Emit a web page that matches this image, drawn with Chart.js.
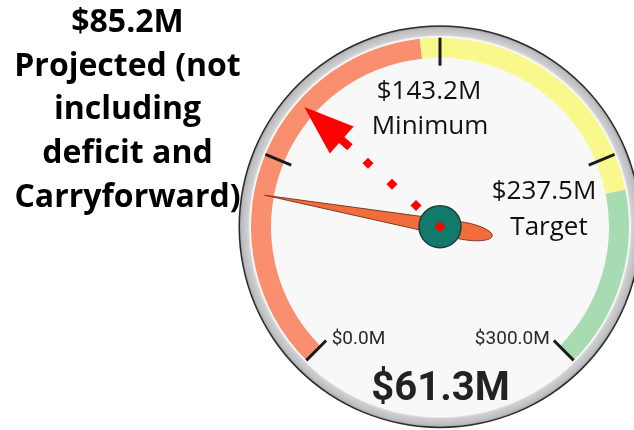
<!DOCTYPE html>
<html><head><meta charset="utf-8">
<script src="https://cdn.jsdelivr.net/npm/chart.js@4"></script>
<style>html,body{margin:0;padding:0;background:#fff;overflow:hidden}#wrap{width:634px;height:430px;position:relative}</style>
</head><body><div id="wrap"><canvas id="c" width="634" height="430"></canvas></div>
<script>
// ---- data ----
const bandEdges = [0, 143.2, 237.5, 300];
const bandNames = ['Below minimum', 'Minimum to target', 'Above target'];
const bandColors = ['#f98f6f', '#f9f88a', '#a7dcb3'];
const tickValues = [0, 75, 150, 225, 300];
const scaleLabels = ['$0.0M', '$300.0M'];
const currentValue = 61.3;
const currentLabel = '$61.3M';
const minimumLabel = ['$143.2M', 'Minimum'];
const targetLabel = ['$237.5M', 'Target'];
const projectedLabel = ['$85.2M', 'Projected (not', 'including', 'deficit and', 'Carryforward)'];
const bandValues = bandEdges.slice(1).map((v, i) => v - bandEdges[i]);

function geom(chart) {
  const meta = chart.getDatasetMeta(0);
  const first = meta.data[0], last = meta.data[meta.data.length - 1];
  const lo = bandEdges[0], hi = bandEdges[bandEdges.length - 1];
  const s = first.startAngle, e = last.endAngle;
  return {
    cx: first.x, cy: first.y, R: first.outerRadius, r: first.innerRadius,
    ang: v => s + (v - lo) / (hi - lo) * (e - s)
  };
}

const facePlugin = {
  id: 'face',
  beforeDatasetsDraw(chart) {
    const {ctx} = chart; const g = geom(chart);
    ctx.save();
    ctx.beginPath(); ctx.arc(g.cx, g.cy, g.R + 12.5, 0, Math.PI * 2);
    ctx.fillStyle = '#2a2a2a'; ctx.fill();
    const grad = ctx.createRadialGradient(g.cx, g.cy, g.R + 1, g.cx, g.cy, g.R + 11);
    grad.addColorStop(0, '#f0f0f0'); grad.addColorStop(0.2, '#cfd0d2');
    grad.addColorStop(0.8, '#bcbec1'); grad.addColorStop(1, '#a8a8a8');
    ctx.beginPath(); ctx.arc(g.cx, g.cy, g.R + 11, 0, Math.PI * 2);
    ctx.fillStyle = grad; ctx.fill();
    ctx.beginPath(); ctx.arc(g.cx, g.cy, g.R + 1.5, 0, Math.PI * 2);
    ctx.fillStyle = '#f8f8f8'; ctx.fill();
    ctx.restore();
  },
  afterDatasetsDraw(chart) {
    const {ctx} = chart; const g = geom(chart);
    const pt = (a, d, w = 0) => [g.cx + Math.cos(a) * d - Math.sin(a) * w, g.cy + Math.sin(a) * d + Math.cos(a) * w];
    ctx.save();
    // ticks
    ctx.strokeStyle = '#1b1b1b'; ctx.lineWidth = 3;
    tickValues.forEach(v => {
      const a = g.ang(v);
      const p1 = pt(a, g.r - 8), p2 = pt(a, g.R);
      ctx.beginPath(); ctx.moveTo(p1[0], p1[1]); ctx.lineTo(p2[0], p2[1]); ctx.stroke();
    });
    // scale end labels
    ctx.font = '19px Roboto'; ctx.fillStyle = '#2a2a2a'; ctx.textBaseline = 'alphabetic';
    const pMin = pt(g.ang(bandEdges[0]), g.r - 8);
    const pMax = pt(g.ang(bandEdges[bandEdges.length - 1]), g.r - 8);
    ctx.textAlign = 'left'; ctx.fillText(scaleLabels[0], pMin[0] + 5.5, pMin[1] + 3);
    ctx.textAlign = 'right'; ctx.fillText(scaleLabels[1], pMax[0] - 4, pMax[1] + 3);
    // minimum / target labels
    ctx.font = '26px "Open Sans"'; ctx.fillStyle = '#111'; ctx.textAlign = 'center';
    ctx.fillText(minimumLabel[0], g.cx - 11, g.cy - 127.5);
    ctx.fillText(minimumLabel[1], g.cx - 10, g.cy - 92.5);
    ctx.fillText(targetLabel[0], g.cx + 104, g.cy - 27.5);
    ctx.fillText(targetLabel[1], g.cx + 109, g.cy + 8.5);
    // big value
    ctx.font = 'bold 40px Roboto'; ctx.fillStyle = '#222';
    ctx.fillText(currentLabel, g.cx + 0.5, g.cy + 173.5);
    // needle
    const a = g.ang(currentValue);
    const P = (d, w) => pt(a, d, w);
    ctx.beginPath();
    let q = P(g.r + 9, 0); ctx.moveTo(q[0], q[1]);
    q = P(-20, 8.5); ctx.lineTo(q[0], q[1]);
    let c1 = P(-38, 9.2), c2 = P(-53, 5), e = P(-53, 0);
    ctx.bezierCurveTo(c1[0], c1[1], c2[0], c2[1], e[0], e[1]);
    c1 = P(-53, -5); c2 = P(-38, -9.2); e = P(-20, -8.5);
    ctx.bezierCurveTo(c1[0], c1[1], c2[0], c2[1], e[0], e[1]);
    ctx.closePath();
    ctx.fillStyle = '#f26c3c'; ctx.fill();
    ctx.strokeStyle = '#7d3b26'; ctx.lineWidth = 1; ctx.stroke();
    // hub
    ctx.beginPath(); ctx.arc(g.cx, g.cy, 21, 0, Math.PI * 2);
    ctx.fillStyle = '#117a6a'; ctx.fill();
    ctx.strokeStyle = '#1d3d36'; ctx.lineWidth = 1.5; ctx.stroke();
    // projected arrow (annotation)
    const aa = -138.6 * Math.PI / 180;
    const A = (d, w) => pt(aa, d, w);
    ctx.fillStyle = '#ff0000';
    [0, 32, 64, 96].forEach(d => {
      const c = A(d, 0);
      ctx.beginPath();
      ctx.moveTo(c[0], c[1] - 5.5); ctx.lineTo(c[0] + 5.5, c[1]);
      ctx.lineTo(c[0], c[1] + 5.5); ctx.lineTo(c[0] - 5.5, c[1]); ctx.closePath(); ctx.fill();
    });
    ctx.beginPath();
    let s = A(120, -4); ctx.moveTo(s[0], s[1]);
    s = A(131, -4); ctx.lineTo(s[0], s[1]);
    s = A(131, -18); ctx.lineTo(s[0], s[1]);
    s = A(181, 0); ctx.lineTo(s[0], s[1]);
    s = A(131, 18); ctx.lineTo(s[0], s[1]);
    s = A(131, 4); ctx.lineTo(s[0], s[1]);
    s = A(120, 4); ctx.lineTo(s[0], s[1]);
    ctx.closePath(); ctx.fill();
    ctx.restore();
  },
  afterDraw(chart) {
    const {ctx} = chart;
    ctx.save();
    ctx.font = 'bold 32px "Open Sans"'; ctx.fillStyle = '#000';
    ctx.textAlign = 'center'; ctx.textBaseline = 'alphabetic';
    projectedLabel.forEach((t, i) => ctx.fillText(t, 127.5, 31.7 + i * 43.8));
    ctx.restore();
  }
};

new Chart(document.getElementById('c'), {
  type: 'doughnut',
  data: {labels: bandNames, datasets: [{data: bandValues, backgroundColor: bandColors, borderWidth: 0, hoverOffset: 0}]},
  options: {
    responsive: false, animation: false, events: [],
    rotation: -135, circumference: 270, radius: 189, cutout: '89.42%',
    layout: {padding: {left: 246, right: 0, top: 0, bottom: 32}},
    plugins: {legend: {display: false}, tooltip: {enabled: false}}
  },
  plugins: [facePlugin]
});
</script></body></html>
